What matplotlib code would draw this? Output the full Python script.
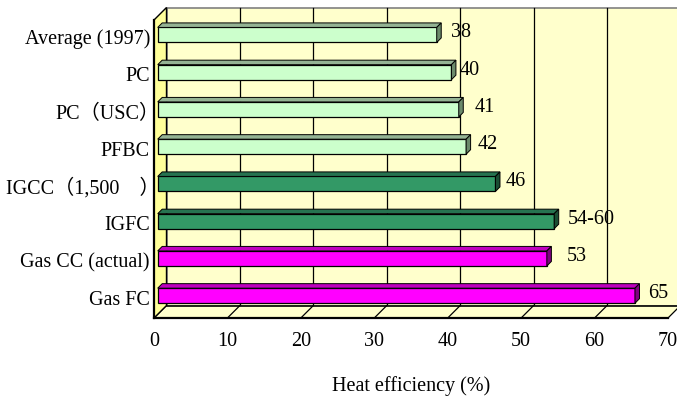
import matplotlib
matplotlib.use("Agg")
import matplotlib.pyplot as plt
import matplotlib.transforms as mtransforms
from matplotlib.patches import Polygon

# data, top to bottom as in the chart
categories = ["Average (1997)", "PC", "PC（USC）", "PFBC", "IGCC（1,500　）",
              "IGFC", "Gas CC (actual)", "Gas FC"]
values = [38, 40, 41, 42, 46, 54, 53, 65]
value_labels = ["38", "40", "41", "42", "46", "54-60", "53", "65"]
groups = ["coal", "coal", "coal", "coal", "igcc", "igcc", "gas", "gas"]
x_ticks = [0, 10, 20, 30, 40, 50, 60, 70]

# label nudges to the right of the bar end (pixels)
label_nudge = [10, 4, 11, 7, 6, 9, 15, 9]
# category labels ending in a full-width bracket carry blank space on the right
cat_nudge = [0, 0, 10, 0, 10, 0, 0, 0]

# front / top / side colours
colors = {
    "coal": ("#CCFFCC", "#94B394", "#6B8A6B"),
    "igcc": ("#339966", "#267350", "#1A4D33"),
    "gas": ("#FF00FF", "#BF00BF", "#800080"),
}

serif = ["Liberation Serif", "Noto Sans CJK JP", "DejaVu Sans"]
fs = 14.5

fig = plt.figure(figsize=(6.77, 3.96), dpi=100)
ax = fig.add_axes([154 / 677, 78 / 396, 514 / 677, 298 / 396])
n = len(categories)
ax.set_xlim(0, 70)
ax.set_ylim(-0.5, n - 0.5)
ax.axis("off")

bb = ax.get_window_extent()
ux = bb.width / 70
uy = bb.height / n


def shift(px):
    return px / ux, px / uy


def offset(px_x, px_y):
    return ax.transData + mtransforms.Affine2D().translate(px_x, px_y)


dx, dy = shift(12.5)   # depth of the whole box
y0, y1 = -0.5, n - 0.5

# back wall
ax.add_patch(Polygon([(dx, y0 + dy), (70 + dx, y0 + dy), (70 + dx, y1 + dy), (dx, y1 + dy)],
                     closed=True, facecolor="#FFFFCC", edgecolor="#808080", lw=1.2,
                     clip_on=False, zorder=1))
for t in x_ticks[1:]:
    ax.plot([t + dx, t + dx], [y0 + dy, y1 + dy], color="black", lw=0.9, clip_on=False, zorder=2)

# floor
ax.add_patch(Polygon([(0, y0), (70, y0), (70 + dx, y0 + dy), (dx, y0 + dy)],
                     closed=True, facecolor="#FFFFCC", edgecolor="none", clip_on=False, zorder=2))
for t in x_ticks:
    ax.plot([t, t + dx], [y0, y0 + dy], color="black", lw=0.9, clip_on=False, zorder=3)
ax.plot([dx, 70 + dx], [y0 + dy, y0 + dy], color="black", lw=1.2, clip_on=False, zorder=3)
ax.plot([0, 70], [y0, y0], color="black", lw=1.6, clip_on=False, zorder=3)

# left wall
ax.add_patch(Polygon([(0, y0), (0, y1), (dx, y1 + dy), (dx, y0 + dy)],
                     closed=True, facecolor="#FFFF99", edgecolor="black", lw=1.0,
                     clip_on=False, zorder=3))
ax.plot([0, 0], [y0, y1], color="black", lw=1.6, clip_on=False, zorder=3)

# bars
fx, fy = shift(3.7)
bx, by = shift(8.2)
h = 0.403
for i, (v, g, lab) in enumerate(zip(values, groups, value_labels)):
    yc = n - 1 - i
    front, top, side = colors[g]
    lo, hi = yc - h / 2, yc + h / 2
    ax.add_patch(Polygon([(fx, lo + fy), (v + fx, lo + fy), (v + fx, hi + fy), (fx, hi + fy)],
                         closed=True, facecolor=front, edgecolor="black", lw=0.9,
                         clip_on=False, zorder=5))
    ax.add_patch(Polygon([(fx, hi + fy), (v + fx, hi + fy), (v + bx, hi + by), (bx, hi + by)],
                         closed=True, facecolor=top, edgecolor="black", lw=0.7,
                         clip_on=False, zorder=5))
    ax.add_patch(Polygon([(v + fx, lo + fy), (v + bx, lo + by), (v + bx, hi + by), (v + fx, hi + fy)],
                         closed=True, facecolor=side, edgecolor="black", lw=0.7,
                         clip_on=False, zorder=5))
    ax.text(v + bx, yc + fy, lab, ha="left", va="center", fontsize=fs, family=serif,
            transform=offset(label_nudge[i], 2), zorder=6)

# tick labels
for t in x_ticks:
    ax.text(t, y0, str(t), ha="center", va="top", fontsize=fs, family=serif,
            transform=offset(0, -13.5))
for i, c in enumerate(categories):
    ax.text(0, n - 1 - i, c, ha="right", va="center", fontsize=fs, family=serif,
            transform=offset(-4 + cat_nudge[i], -1))

ax.text(0.5, (318 - 376) / 298, "Heat efficiency (%)", ha="center", va="top",
        fontsize=fs, family=serif, transform=ax.transAxes)

fig.savefig("out.png", dpi=100)
